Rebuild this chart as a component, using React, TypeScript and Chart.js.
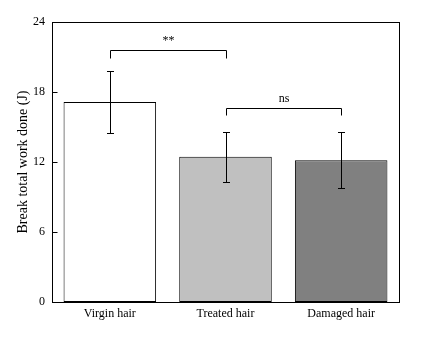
import React, { useEffect, useRef } from "react";
import { Chart, registerables } from "chart.js";

Chart.register(...registerables);

// Break total work done per hair group (mean ± SD, J)
const categories = ["Virgin hair", "Treated hair", "Damaged hair"];
const meanWork = [17.15, 12.45, 12.15];
const sdWork = [2.65, 2.15, 2.4];
const barColors = ["#ffffff", "#c0c0c0", "#808080"];
const yTicks = [0, 6, 12, 18, 24];

// Significance brackets between groups
const bracketFrom = [0, 1];
const bracketTo = [1, 2];
const bracketLevel = [21.6, 16.6];
const bracketDrop = [0.65, 0.6];
const bracketText = ["**", "ns"];

const SERIF = "'Liberation Serif', 'Times New Roman', serif";

const px = (v: number) => Math.round(v) + 0.5;

const overlayPlugin = {
  id: "hairOverlay",
  afterDraw(chart: any) {
    const { ctx, chartArea } = chart;
    const xs = chart.scales.x;
    const ys = chart.scales.y;
    ctx.save();
    ctx.strokeStyle = "#000";
    ctx.fillStyle = "#000";
    ctx.lineWidth = 1;

    // error bars
    meanWork.forEach((m, i) => {
      const x = px(xs.getPixelForValue(i));
      const yHi = px(ys.getPixelForValue(m + sdWork[i]));
      const yLo = px(ys.getPixelForValue(m - sdWork[i]));
      ctx.beginPath();
      ctx.moveTo(x, yHi);
      ctx.lineTo(x, yLo);
      ctx.moveTo(x - 3.5, yHi);
      ctx.lineTo(x + 3.5, yHi);
      ctx.moveTo(x - 3.5, yLo);
      ctx.lineTo(x + 3.5, yLo);
      ctx.stroke();
    });

    // significance brackets
    ctx.font = `12px ${SERIF}`;
    ctx.textAlign = "center";
    ctx.textBaseline = "middle";
    bracketText.forEach((t, i) => {
      const x1 = px(xs.getPixelForValue(bracketFrom[i]));
      const x2 = px(xs.getPixelForValue(bracketTo[i]));
      const y = px(ys.getPixelForValue(bracketLevel[i]));
      const yb = px(ys.getPixelForValue(bracketLevel[i] - bracketDrop[i]));
      ctx.beginPath();
      ctx.moveTo(x1, yb);
      ctx.lineTo(x1, y);
      ctx.lineTo(x2, y);
      ctx.lineTo(x2, yb);
      ctx.stroke();
      ctx.fillText(t, (x1 + x2) / 2, y - 10);
    });

    // plot frame
    const l = px(chartArea.left);
    const r = px(chartArea.right);
    const tp = px(chartArea.top);
    const b = px(chartArea.bottom);
    ctx.strokeRect(l, tp, r - l, b - tp);

    // inward y tick marks
    ctx.beginPath();
    yTicks.forEach((v) => {
      const y = px(ys.getPixelForValue(v));
      ctx.moveTo(l, y);
      ctx.lineTo(l + 5, y);
    });
    ctx.stroke();
    ctx.restore();
  },
};

export default function App() {
  const canvasRef = useRef<HTMLCanvasElement | null>(null);

  useEffect(() => {
    if (!canvasRef.current) return;
    const chart = new Chart(canvasRef.current, {
      type: "bar",
      data: {
        labels: categories,
        datasets: [
          {
            data: meanWork,
            backgroundColor: barColors,
            borderColor: "#000",
            borderWidth: 1,
            borderSkipped: false,
            barPercentage: 0.8,
            categoryPercentage: 1,
          },
        ],
      },
      options: {
        responsive: false,
        animation: false,
        layout: { padding: { left: 0, top: 22, right: 25, bottom: 0 } },
        plugins: { legend: { display: false }, tooltip: { enabled: false } },
        scales: {
          x: {
            grid: { display: false, drawTicks: false },
            border: { display: false },
            ticks: { color: "#000", font: { family: SERIF, size: 12 }, padding: 5, maxRotation: 0 },
            afterFit: (s: any) => {
              s.height = 36;
            },
          },
          y: {
            min: 0,
            max: 24,
            grid: { display: false, drawTicks: false },
            border: { display: false },
            afterBuildTicks: (s: any) => {
              s.ticks = yTicks.map((v) => ({ value: v }));
            },
            ticks: { color: "#000", font: { family: SERIF, size: 12 }, padding: 7 },
            title: {
              display: true,
              text: "Break total work done (J)",
              color: "#000",
              font: { family: SERIF, size: 14 },
              padding: { top: 15, bottom: 0 },
            },
            afterFit: (s: any) => {
              s.width = 52;
            },
          },
        },
      },
      plugins: [overlayPlugin],
    });
    return () => chart.destroy();
  }, []);

  return (
    <div style={{ position: "fixed", left: 0, top: 0, width: 424, height: 338, background: "#fff" }}>
      <canvas ref={canvasRef} width={424} height={338} style={{ display: "block" }} />
    </div>
  );
}
